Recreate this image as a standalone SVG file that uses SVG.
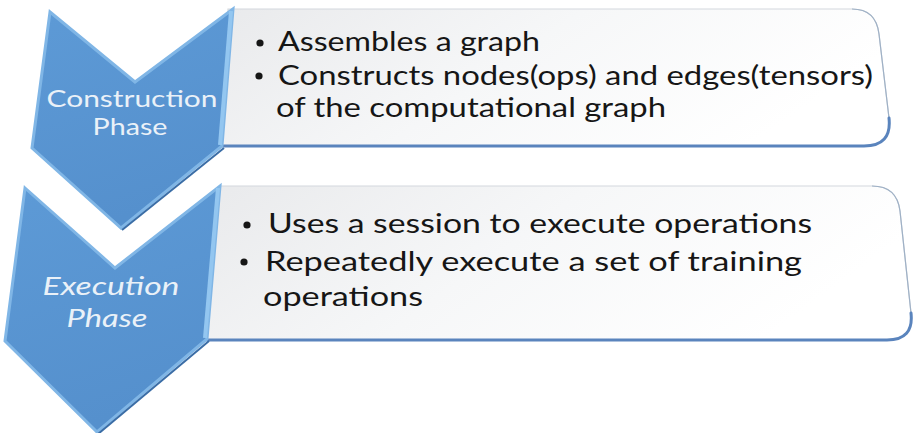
<svg xmlns="http://www.w3.org/2000/svg" width="914" height="433" viewBox="0 0 914 433">
  <defs>
    <linearGradient id="boxFill" x1="0" y1="0" x2="1" y2="0.3">
      <stop offset="0" stop-color="#e9eaec"/>
      <stop offset="0.5" stop-color="#f6f7f8"/>
      <stop offset="1" stop-color="#ffffff"/>
    </linearGradient>
    <linearGradient id="chevFill" x1="0" y1="0" x2="0.3" y2="1">
      <stop offset="0" stop-color="#5d9ad6"/>
      <stop offset="1" stop-color="#5590cd"/>
    </linearGradient>
  </defs>
  <style>
    .box { fill: url(#boxFill); stroke: #d3d8de; stroke-width: 1.2; }
    .boxEdge { fill: none; stroke: #5a84bd; stroke-width: 3; stroke-linecap: round; }
    .boxSide { fill: none; stroke: #9fb1c6; stroke-width: 1.2; }
    .chev { fill: url(#chevFill); stroke: #80b6e6; stroke-width: 3; stroke-linejoin: miter; }
    .chevDark { fill: none; stroke: #3a6da6; stroke-width: 2; }
    .chevLight { fill: none; stroke: #93c6f0; stroke-width: 4; }
    .label { font-family: Lato, "Open Sans", "Liberation Sans", sans-serif; font-size: 23px; fill: #eaf1f8; text-anchor: middle; }
    .ital { font-style: italic; font-size: 25px; }
    .item { font-family: Lato, "Open Sans", "Liberation Sans", sans-serif; font-size: 26px; fill: #161616; }
    .bullet { fill: #161616; }
  </style>
  <rect width="914" height="433" fill="#ffffff"/>

  <g id="box-construction">
    <path class="box" d="M 228 9 L 852 9 Q 876 9 879 34 L 889 118 Q 892 146 864 146 L 222 146 Z"/>
    <path class="boxSide" d="M 852 9 Q 876 9 879 34 L 889 118"/>
    <path class="boxEdge" d="M 222 146 L 864 146 Q 892 146 889 118"/>
    <circle class="bullet" cx="260" cy="43" r="3.6"/>
    <text class="item" x="278" y="51" textLength="262" lengthAdjust="spacingAndGlyphs">Assembles a graph</text>
    <circle class="bullet" cx="259" cy="76" r="3.6"/>
    <text class="item" x="278" y="85" textLength="595" lengthAdjust="spacingAndGlyphs">Constructs nodes(ops) and edges(tensors)</text>
    <text class="item" x="276" y="117" textLength="390" lengthAdjust="spacingAndGlyphs">of the computational graph</text>
  </g>

  <g id="box-execution">
    <path class="box" d="M 220 186 L 872 186 Q 897 186 900 211 L 911 313 Q 914 340 887 340 L 207 340 Z"/>
    <path class="boxSide" d="M 872 186 Q 897 186 900 211 L 911 313"/>
    <path class="boxEdge" d="M 207 340 L 887 340 Q 914 340 911 313"/>
    <circle class="bullet" cx="247" cy="225" r="3.6"/>
    <text class="item" x="268" y="233" textLength="544" lengthAdjust="spacingAndGlyphs">Uses a session to execute operations</text>
    <circle class="bullet" cx="244" cy="262" r="3.6"/>
    <text class="item" x="265" y="271" textLength="537" lengthAdjust="spacingAndGlyphs">Repeatedly execute a set of training</text>
    <text class="item" x="263" y="306" textLength="160" lengthAdjust="spacingAndGlyphs">operations</text>
  </g>

  <g id="chevron-construction">
    <polygon class="chev" points="50,12 135,82 233,9 222,146 121,228 32,148"/>
    <line class="chevLight" x1="231" y1="11" x2="220" y2="145"/>
    <line class="chevDark" x1="224" y1="148" x2="122" y2="230"/>
    <text class="label" x="132" y="107" textLength="171" lengthAdjust="spacingAndGlyphs">Construction</text>
    <text class="label" x="130" y="135" textLength="75" lengthAdjust="spacingAndGlyphs">Phase</text>
  </g>

  <g id="chevron-execution">
    <polygon class="chev" points="25,188 115,268 220,186 207,339 97,432 5,341"/>
    <line class="chevLight" x1="218" y1="188" x2="205" y2="338"/>
    <line class="chevDark" x1="209" y1="341" x2="98" y2="434"/>
    <text class="label ital" x="111" y="295" textLength="137" lengthAdjust="spacingAndGlyphs">Execution</text>
    <text class="label ital" x="107" y="327" textLength="81" lengthAdjust="spacingAndGlyphs">Phase</text>
  </g>

  <g id="connectors"/>
</svg>
